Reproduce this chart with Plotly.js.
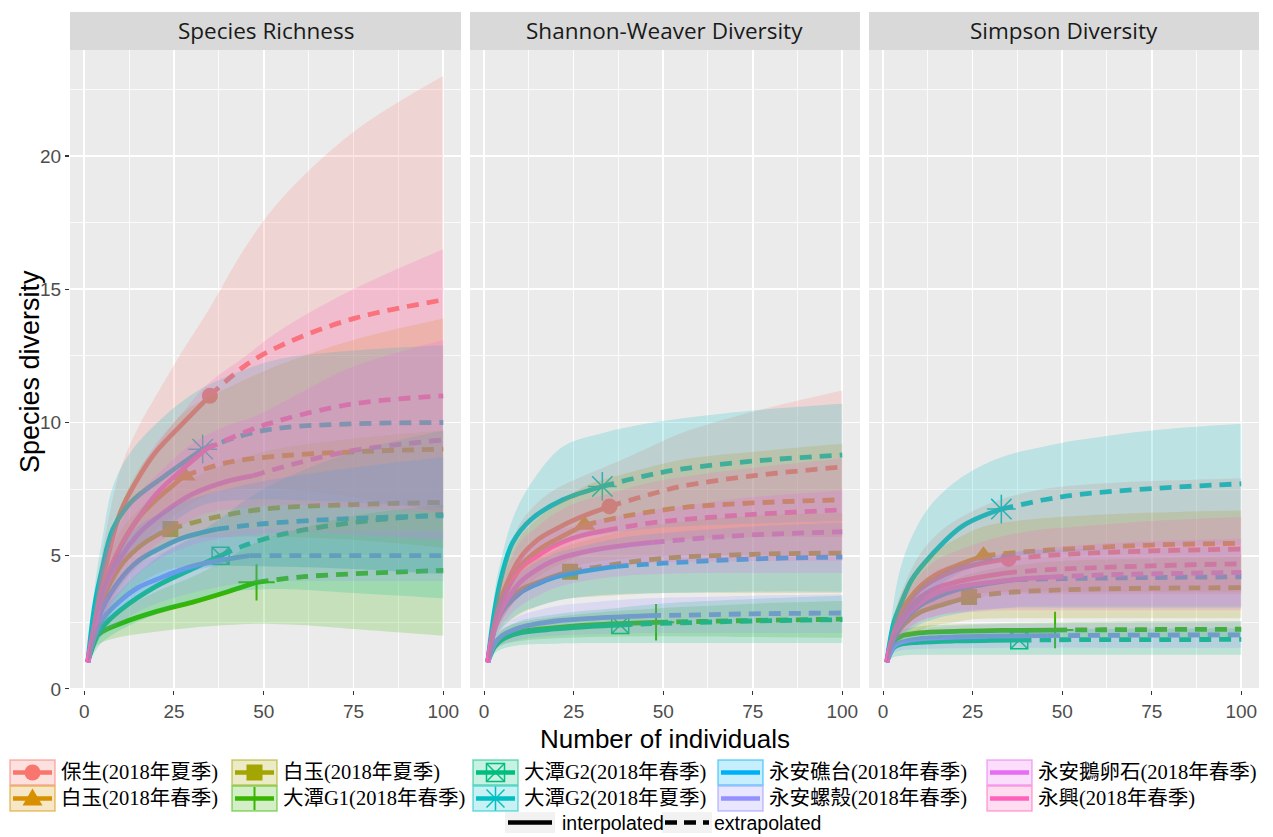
<!DOCTYPE html>
<html><head><meta charset="utf-8">
<script src="https://cdn.plot.ly/plotly-3.0.1.min.js"></script>
<style>html,body{margin:0;padding:0;background:#fff}#chart{width:1273px;height:837px}</style>
</head><body><div id="chart"></div>
<script>
// ---------------- DATA ----------------
const groupNames = ['保生(2018年夏季)','白玉(2018年春季)','白玉(2018年夏季)','大潭G1(2018年春季)','大潭G2(2018年春季)',
  '大潭G2(2018年夏季)','永安礁台(2018年春季)','永安螺殼(2018年春季)','永安鵝卵石(2018年春季)','永興(2018年春季)'];
const groupColors = ['#F8766D','#D89000','#A3A500','#39B600','#00BF7D','#00BFC4','#00B0F6','#9590FF','#E76BF3','#FF62BC'];
const observedSize = [35,28,24,48,38,33,37,46,47,34];
const panelTitles = ['Species Richness','Shannon-Weaver Diversity','Simpson Diversity'];
const xTickVals = [0,25,50,75,100];
const yTickVals = [0,5,10,15,20];
const methodLabels = ['interpolated','extrapolated'];

// sample sizes (m) at which each group's curve was read
const sampleGrid = [
  [1,3,5,10,15,20,27,35,45,55,75,100],
  [1,3,5,10,15,20,28,40,55,75,100],
  [1,3,5,10,15,20,24,35,50,75,100],
  [1,3,5,10,20,30,40,48,60,75,100],
  [1,3,5,10,20,30,38,45,55,75,100],
  [1,3,5,8,13,22,33,45,55,75,100],
  [1,3,5,10,15,20,27,37,50,75,100],
  [1,3,5,10,15,20,30,46,60,75,100],
  [1,3,5,10,15,20,30,40,47,60,75,100],
  [1,3,5,10,15,20,27,34,45,55,75,100]
];

const richnessEst = [
  [1,2.6,4.0,6.6,7.9,8.9,9.9,11,12.15,12.9,13.9,14.6],
  [1,2.5,3.6,5.3,6.4,7.1,8.0,8.5,8.75,8.9,9.0],
  [1,2.3,3.3,4.6,5.3,5.75,6.0,6.4,6.75,6.92,7.0],
  [1,1.9,2.15,2.45,2.9,3.25,3.65,4.0,4.2,4.32,4.45],
  [1,1.8,2.3,2.95,3.85,4.5,5.0,5.4,5.8,6.25,6.55],
  [1,3.2,4.5,6.0,7.0,7.95,9.0,9.55,9.8,9.95,10.0],
  [1,2.2,3.0,4.1,4.8,5.2,5.65,6.0,6.2,6.4,6.5],
  [1,2.0,2.6,3.3,3.8,4.1,4.6,5.0,5.0,5.0,5.0],
  [1,2.4,3.5,4.9,5.8,6.4,7.3,7.8,8.0,8.5,8.95,9.35],
  [1,2.5,3.7,5.3,6.4,7.3,8.2,9.0,9.65,10.1,10.7,11.0]
];
const richnessLow = [
  [1,1.9,2.8,4.4,5.3,6.0,6.7,7.3,7.5,7.5,7.2,6.6],
  [1,1.9,2.6,3.8,4.6,5.1,5.6,5.7,5.7,5.6,5.3],
  [1,1.7,2.3,3.3,3.9,4.3,4.5,4.6,4.6,4.5,4.3],
  [1,1.55,1.75,1.95,2.15,2.3,2.4,2.45,2.4,2.25,2.0],
  [1,1.4,1.75,2.2,2.8,3.3,3.6,3.7,3.75,3.6,3.4],
  [1,2.4,3.3,4.4,5.2,6.0,6.9,7.1,7.1,7.0,6.8],
  [1,1.7,2.2,3.0,3.5,3.9,4.3,4.6,4.6,4.5,4.3],
  [1,1.6,2.0,2.5,2.9,3.2,3.6,4.0,4.05,4.05,4.05],
  [1,1.8,2.5,3.6,4.3,4.8,5.4,5.7,5.8,5.9,5.8,5.6],
  [1,1.9,2.7,3.9,4.7,5.4,6.1,6.6,6.8,6.9,6.8,6.6]
];
const richnessHigh = [
  [1,3.3,5.1,8.2,9.8,11.0,12.6,14.3,16.6,18.4,20.9,23.0],
  [1,3.1,4.6,6.8,8.2,9.1,10.4,11.3,12.2,13.1,13.9],
  [1,2.9,4.3,5.9,6.7,7.2,7.5,8.2,8.9,9.4,9.7],
  [1,2.25,2.55,2.95,3.65,4.2,4.9,5.5,6.0,6.5,6.9],
  [1,2.2,2.85,3.7,4.9,5.7,6.4,7.1,7.85,8.9,9.7],
  [1,3.9,5.6,7.6,8.9,10.2,11.3,12.0,12.4,12.7,12.9],
  [1,2.7,3.8,5.2,6.1,6.5,7.0,7.4,7.8,8.3,8.7],
  [1,2.4,3.2,4.1,4.7,5.0,5.6,6.0,5.95,5.95,5.95],
  [1,3.0,4.5,6.2,7.3,8.0,9.2,9.9,10.2,11.1,12.1,13.1],
  [1,3.1,4.7,6.7,8.1,9.2,10.3,11.4,12.5,13.5,15.0,16.5]
];

const shannonEst = [
  [1,2.6,3.5,4.9,5.6,6.0,6.45,6.85,7.25,7.6,8.0,8.33],
  [1,2.5,3.4,4.6,5.2,5.6,6.15,6.5,6.8,6.98,7.1],
  [1,2.4,3.0,3.7,4.0,4.25,4.4,4.65,4.9,5.05,5.1],
  [1,1.7,1.95,2.15,2.3,2.4,2.46,2.5,2.53,2.57,2.62],
  [1,1.6,1.85,2.1,2.25,2.35,2.4,2.44,2.48,2.55,2.6],
  [1,3.0,4.3,5.5,6.35,7.1,7.6,8.0,8.25,8.55,8.78],
  [1,2.3,2.9,3.6,3.95,4.2,4.4,4.6,4.72,4.88,4.95],
  [1,1.7,2.0,2.3,2.45,2.55,2.65,2.75,2.78,2.82,2.85],
  [1,2.3,3.0,4.0,4.5,4.85,5.2,5.4,5.5,5.65,5.78,5.9],
  [1,2.5,3.3,4.5,5.0,5.4,5.75,5.95,6.2,6.35,6.55,6.72]
];
const shannonLow = [
  [1,2.0,2.6,3.6,4.2,4.6,5.0,5.3,5.5,5.6,5.7,5.7],
  [1,2.0,2.6,3.5,4.0,4.3,4.7,4.9,5.0,5.0,5.0],
  [1,1.9,2.3,2.8,3.1,3.3,3.4,3.5,3.6,3.6,3.6],
  [1,1.45,1.65,1.8,1.9,1.95,1.97,1.98,1.97,1.95,1.92],
  [1,1.35,1.5,1.65,1.7,1.72,1.72,1.72,1.72,1.72,1.72],
  [1,2.4,3.2,4.2,4.9,5.5,5.8,6.0,6.1,6.2,6.3],
  [1,1.9,2.3,2.85,3.1,3.3,3.45,3.55,3.6,3.65,3.65],
  [1,1.45,1.65,1.85,1.95,2.0,2.05,2.1,2.1,2.1,2.1],
  [1,1.9,2.4,3.1,3.5,3.8,4.1,4.25,4.3,4.35,4.35,4.35],
  [1,2.0,2.6,3.5,3.9,4.2,4.45,4.6,4.7,4.75,4.8,4.8]
];
const shannonHigh = [
  [1,3.2,4.4,6.2,7.0,7.5,7.95,8.4,9.0,9.6,10.4,11.2],
  [1,3.0,4.2,5.7,6.4,6.9,7.6,8.1,8.6,8.9,9.2],
  [1,2.9,3.7,4.6,4.9,5.2,5.4,5.8,6.2,6.5,6.6],
  [1,1.95,2.25,2.5,2.7,2.85,2.95,3.02,3.1,3.2,3.3],
  [1,1.85,2.2,2.55,2.8,2.95,3.05,3.15,3.25,3.38,3.5],
  [1,3.7,5.0,6.4,7.7,9.1,9.6,9.95,10.15,10.45,10.7],
  [1,2.7,3.5,4.35,4.8,5.1,5.35,5.65,5.85,6.1,6.25],
  [1,1.95,2.35,2.75,2.95,3.1,3.25,3.4,3.45,3.5,3.55],
  [1,2.7,3.6,4.9,5.5,5.9,6.3,6.55,6.7,6.95,7.2,7.45],
  [1,3.0,4.0,5.5,6.1,6.6,7.05,7.3,7.7,7.95,8.3,8.65]
];

const simpsonEst = [
  [1,2.2,2.8,3.7,4.15,4.45,4.7,4.88,5.0,5.08,5.18,5.25],
  [1,2.3,2.9,3.8,4.3,4.6,5.0,5.15,5.28,5.4,5.47],
  [1,1.9,2.3,2.85,3.1,3.3,3.45,3.62,3.72,3.78,3.8],
  [1,1.8,1.98,2.1,2.16,2.19,2.2,2.21,2.22,2.23,2.24],
  [1,1.55,1.68,1.75,1.8,1.82,1.83,1.84,1.85,1.85,1.86],
  [1,2.5,3.2,4.1,4.95,6.1,6.75,7.1,7.3,7.52,7.7],
  [1,1.9,2.4,3.1,3.45,3.7,3.9,4.1,4.14,4.18,4.21],
  [1,1.6,1.75,1.88,1.92,1.95,1.98,2.0,2.01,2.02,2.03],
  [1,2.0,2.5,3.2,3.6,3.8,4.0,4.15,4.2,4.27,4.32,4.37],
  [1,2.1,2.6,3.4,3.8,4.0,4.2,4.35,4.47,4.53,4.62,4.7]
];
const simpsonLow = [
  [1,1.8,2.2,2.8,3.1,3.3,3.45,3.55,3.55,3.55,3.55,3.55],
  [1,1.85,2.25,2.9,3.2,3.4,3.6,3.65,3.65,3.65,3.65],
  [1,1.6,1.85,2.2,2.4,2.5,2.6,2.65,2.65,2.65,2.65],
  [1,1.6,1.75,1.85,1.9,1.92,1.93,1.93,1.93,1.93,1.93],
  [1,1.2,1.25,1.28,1.28,1.28,1.28,1.28,1.28,1.28,1.28],
  [1,1.9,2.4,2.9,3.6,4.4,4.9,5.1,5.2,5.33,5.4],
  [1,1.6,1.95,2.4,2.65,2.8,2.95,3.05,3.05,3.05,3.05],
  [1,1.35,1.45,1.5,1.52,1.53,1.54,1.55,1.55,1.55,1.55],
  [1,1.7,2.0,2.5,2.75,2.9,3.0,3.1,3.1,3.1,3.1,3.1],
  [1,1.75,2.05,2.55,2.75,2.85,2.9,2.95,2.95,2.95,2.95,2.95]
];
const simpsonHigh = [
  [1,2.7,3.6,5.0,5.8,6.3,6.8,7.2,7.5,7.65,7.8,7.9],
  [1,2.7,3.5,4.6,5.2,5.6,6.1,6.35,6.5,6.62,6.7],
  [1,2.2,2.75,3.5,3.8,4.1,4.3,4.6,4.8,4.9,4.95],
  [1,2.0,2.2,2.35,2.42,2.46,2.48,2.5,2.52,2.54,2.55],
  [1,1.75,1.95,2.1,2.2,2.22,2.24,2.25,2.26,2.27,2.28],
  [1,3.3,4.6,5.7,6.85,7.95,8.7,9.1,9.35,9.7,9.95],
  [1,2.2,2.85,3.8,4.25,4.6,4.85,5.15,5.23,5.3,5.37],
  [1,1.85,2.05,2.25,2.32,2.37,2.42,2.45,2.47,2.49,2.51],
  [1,2.3,3.0,3.9,4.45,4.7,5.0,5.2,5.3,5.45,5.55,5.65],
  [1,2.45,3.15,4.25,4.85,5.15,5.5,5.75,6.0,6.1,6.3,6.45]
];

// ---------------- STYLE ----------------
const W = 1273, H = 837;
const px = v => v / W, py = v => 1 - v / H;
const markerStyle = [
  {symbol:'circle', size:16, lw:0},
  {symbol:'triangle-up', size:19, lw:0},
  {symbol:'square', size:16, lw:0},
  {symbol:'cross-thin-open', size:26, lw:2},
  {symbol:'square-x-open', size:17, lw:1.5},
  {symbol:'asterisk-open', size:24, lw:1.5},
  null, null, null, null
];
function rgba(hex, a){
  const n = parseInt(hex.slice(1),16);
  return `rgba(${(n>>16)&255},${(n>>8)&255},${n&255},${a})`;
}
const panelDomains = [[70/W, 461/W],[470/W, 860/W],[869/W, 1259/W]];
const yDomain = [1-690/H, 1-50/H];
const panels = [
  [richnessEst, richnessLow, richnessHigh],
  [shannonEst, shannonLow, shannonHigh],
  [simpsonEst, simpsonLow, simpsonHigh]
];

const traces = [];
panels.forEach((p, pi) => {
  const xa = pi === 0 ? 'x' : 'x' + (pi+1);
  const ya = pi === 0 ? 'y' : 'y' + (pi+1);
  // observed points
  groupNames.forEach((g, gi) => {
    const ms = markerStyle[gi];
    if (!ms) return;
    const xs = sampleGrid[gi], k = xs.indexOf(observedSize[gi]);
    traces.push({x:[xs[k]], y:[p[0][gi][k]], xaxis:xa, yaxis:ya, mode:'markers', showlegend:false, hoverinfo:'skip',
      marker:{symbol:ms.symbol, size:ms.size, color:groupColors[gi], line:{width:ms.lw, color:groupColors[gi]}}});
  });
  // interpolated / extrapolated lines
  groupNames.forEach((g, gi) => {
    const xs = sampleGrid[gi], k = xs.indexOf(observedSize[gi]);
    traces.push({x:xs.slice(0,k+1), y:p[0][gi].slice(0,k+1), xaxis:xa, yaxis:ya, mode:'lines', showlegend:false, hoverinfo:'skip',
      line:{color:groupColors[gi], width:4.8, shape:'spline'}});
    traces.push({x:xs.slice(k), y:p[0][gi].slice(k), xaxis:xa, yaxis:ya, mode:'lines', showlegend:false, hoverinfo:'skip',
      line:{color:groupColors[gi], width:4.8, shape:'spline', dash:'12px,8px'}});
  });
  // confidence ribbons
  groupNames.forEach((g, gi) => {
    const xs = sampleGrid[gi];
    traces.push({x:xs, y:p[1][gi], xaxis:xa, yaxis:ya, mode:'lines', showlegend:false, hoverinfo:'skip',
      line:{width:0, color:'rgba(0,0,0,0)', shape:'spline'}});
    traces.push({x:xs, y:p[2][gi], xaxis:xa, yaxis:ya, mode:'lines', showlegend:false, hoverinfo:'skip',
      line:{width:0, color:'rgba(0,0,0,0)', shape:'spline'}, fill:'tonexty', fillcolor:rgba(groupColors[gi],0.2)});
  });
});

const tickFont = {family:'Liberation Sans, Arial, sans-serif', size:19, color:'#4D4D4D'};
function xAxis(d, anchor){
  return {domain:d, anchor:anchor, range:[-3.95,104.95], tickmode:'array', tickvals:xTickVals, ticktext:xTickVals.map(String),
    ticks:'outside', ticklen:4, tickcolor:'#333333', tickwidth:1.1, tickfont:tickFont,
    showgrid:true, gridcolor:'#FFFFFF', gridwidth:1.6, zeroline:false, showline:false, fixedrange:true,
    minor:{tickvals:[12.5,37.5,62.5,87.5], showgrid:true, gridcolor:'#FFFFFF', gridwidth:0.8, ticks:''}};
}
function yAxis(anchor, labels){
  return {domain:yDomain, anchor:anchor, range:[-0.04,23.98], tickmode:'array', tickvals:yTickVals, ticktext:yTickVals.map(String),
    ticks: labels ? 'outside' : '', ticklen:4, tickcolor:'#333333', tickwidth:1.1, tickfont:tickFont, showticklabels:labels,
    showgrid:true, gridcolor:'#FFFFFF', gridwidth:1.6, zeroline:false, showline:false, fixedrange:true,
    minor:{tickvals:[2.5,7.5,12.5,17.5,22.5], showgrid:true, gridcolor:'#FFFFFF', gridwidth:0.8, ticks:''}};
}

const shapes = [], annotations = [];
// facet strips
panelTitles.forEach((t, i) => {
  shapes.push({type:'rect', xref:'paper', yref:'paper', x0:panelDomains[i][0], x1:panelDomains[i][1], y0:py(50), y1:py(12),
    fillcolor:'#D9D9D9', line:{width:0}, layer:'below'});
  annotations.push({text:t, xref:'paper', yref:'paper', x:(panelDomains[i][0]+panelDomains[i][1])/2, y:py(31),
    xanchor:'center', yanchor:'middle', showarrow:false, font:{family:'Open Sans, sans-serif', size:22.5, color:'#1A1A1A'}});
});
// axis titles
annotations.push({text:'Number of individuals', xref:'paper', yref:'paper', x:px(665), y:py(739), xanchor:'center', yanchor:'middle',
  showarrow:false, font:{family:'Liberation Sans, Arial, sans-serif', size:26, color:'#000000'}});
annotations.push({text:'Species diversity', xref:'paper', yref:'paper', x:px(30), y:py(372), xanchor:'center', yanchor:'middle',
  textangle:-90, showarrow:false, font:{family:'Liberation Sans, Arial, sans-serif', size:27, color:'#000000'}});

// legend (manual keys)
const legendKeyX = [10, 232, 473, 718, 987];
const legendRowY = [760, 786];
const keyW = 45, keyH = 25;
function seg(x0,y0,x1,y1,color,w,dash){
  shapes.push({type:'line', xref:'paper', yref:'paper', x0:px(x0), y0:py(y0), x1:px(x1), y1:py(y1), line:{color:color, width:w, dash:dash||'solid'}});
}
function box(x0,y0,x1,y1,fill,lc,lw){
  shapes.push({type:'rect', xref:'paper', yref:'paper', x0:px(x0), x1:px(x1), y0:py(y1), y1:py(y0), fillcolor:fill, line:{color:lc, width:lw}});
}
groupNames.forEach((g, gi) => {
  const c = Math.floor(gi/2), r = gi % 2;
  const x0 = legendKeyX[c], y0 = legendRowY[r];
  const cx = x0 + keyW/2, cy = y0 + keyH/2, col = groupColors[gi];
  box(x0, y0, x0+keyW, y0+keyH, rgba(col,0.22), rgba(col,0.55), 1.5);
  seg(x0+3, cy, x0+keyW-3, cy, col, 4.5);
  if (gi === 0) shapes.push({type:'circle', xref:'paper', yref:'paper', x0:px(cx-8), x1:px(cx+8), y0:py(cy+8), y1:py(cy-8), fillcolor:col, line:{width:0}});
  if (gi === 1) shapes.push({type:'path', xref:'paper', yref:'paper', path:`M ${px(cx)} ${py(cy-10)} L ${px(cx+10)} ${py(cy+7)} L ${px(cx-10)} ${py(cy+7)} Z`, fillcolor:col, line:{width:0}});
  if (gi === 2) box(cx-8, cy-8, cx+8, cy+8, col, col, 0);
  if (gi === 3) seg(cx, y0+1, cx, y0+keyH-1, col, 2);
  if (gi === 4) { box(cx-9, cy-9, cx+9, cy+9, 'rgba(0,0,0,0)', col, 1.5); seg(cx-9, cy-9, cx+9, cy+9, col, 1.5); seg(cx-9, cy+9, cx+9, cy-9, col, 1.5); }
  if (gi === 5) { seg(cx, cy-12, cx, cy+12, col, 1.5); seg(cx-12, cy, cx+12, cy, col, 1.5); seg(cx-9, cy-9, cx+9, cy+9, col, 1.5); seg(cx-9, cy+9, cx+9, cy-9, col, 1.5); }
  annotations.push({text:g, xref:'paper', yref:'paper', x:px(x0+keyW+4), y:py(cy), xanchor:'left', yanchor:'middle', showarrow:false,
    font:{family:'Liberation Serif, Noto Sans CJK TC, serif', size:20.5, color:'#000000'}});
});
// linetype legend
const ltKeyX = [505, 662];
const ltTextX = [560, 712];
methodLabels.forEach((m, i) => {
  box(ltKeyX[i], 812, ltKeyX[i]+50, 833, '#F2F2F2', '#F2F2F2', 0);
  seg(ltKeyX[i]+3, 822.5, ltKeyX[i]+47, 822.5, '#000000', 4.5, i === 0 ? 'solid' : '12px,7px');
  annotations.push({text:m, xref:'paper', yref:'paper', x:px(ltTextX[i]), y:py(822.5), xanchor:'left', yanchor:'middle', showarrow:false,
    font:{family:'Liberation Sans, Arial, sans-serif', size:19.5, color:'#000000'}});
});

const layout = {
  width:W, height:H, margin:{l:0,r:0,t:0,b:0}, paper_bgcolor:'#FFFFFF', plot_bgcolor:'#EBEBEB', showlegend:false,
  xaxis:xAxis(panelDomains[0],'y'), xaxis2:xAxis(panelDomains[1],'y2'), xaxis3:xAxis(panelDomains[2],'y3'),
  yaxis:yAxis('x', true), yaxis2:yAxis('x2', false), yaxis3:yAxis('x3', false),
  shapes:shapes, annotations:annotations
};
Plotly.newPlot('chart', traces, layout, {staticPlot:true, displayModeBar:false});
</script>
</body></html>
